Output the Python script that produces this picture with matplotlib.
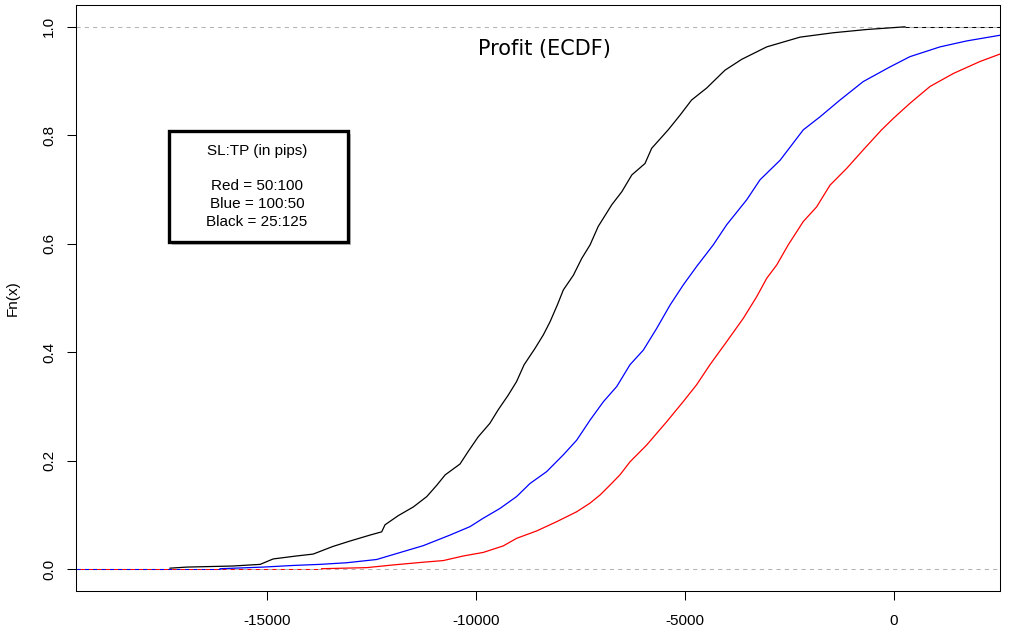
import matplotlib.pyplot as plt
from matplotlib.patches import Rectangle

plt.rcParams['font.family'] = ['Liberation Sans', 'DejaVu Sans']
plt.rcParams['axes.unicode_minus'] = False

# ECDF readings (profit, Fn(x)) for each SL:TP setting
black_x = [-17330, -16930, -15820, -15170, -14860, -14300, -13900, -13430, -13020, -12540,
           -12260, -12180, -11860, -11500, -11180, -10940, -10740, -10385, -10190, -9950,
           -9670, -9470, -9230, -9030, -8850, -8590, -8390, -8230, -8055, -7910,
           -7670, -7470, -7270, -7075, -6750, -6510, -6270, -5955, -5795, -5400,
           -5117, -4840, -4480, -4040, -3640, -3040, -2240, -1450, -650, 270]
black_F = [0.002, 0.004, 0.006, 0.009, 0.019, 0.0245, 0.028, 0.042, 0.052, 0.063,
           0.069, 0.082, 0.099, 0.115, 0.134, 0.155, 0.174, 0.194, 0.217, 0.244,
           0.269, 0.294, 0.321, 0.346, 0.377, 0.407, 0.432, 0.456, 0.487, 0.515,
           0.542, 0.573, 0.598, 0.632, 0.672, 0.696, 0.727, 0.748, 0.776, 0.810,
           0.837, 0.865, 0.887, 0.920, 0.940, 0.963, 0.981, 0.989, 0.995, 1.0]

blue_x = [-16130, -15100, -14380, -13740, -13100, -12380, -11900, -11265, -10625, -10145,
          -9830, -9430, -9030, -8710, -8310, -7910, -7590, -7270, -6950, -6630,
          -6315, -5995, -5675, -5355, -5040, -4720, -4320, -4000, -3520, -3200,
          -2720, -2165, -1765, -1285, -730, -90, 390, 1110, 1750, 2590]
blue_F = [0.001, 0.004, 0.007, 0.009, 0.012, 0.018, 0.029, 0.0435, 0.063, 0.0786,
          0.094, 0.112, 0.134, 0.158, 0.180, 0.211, 0.238, 0.275, 0.309, 0.337,
          0.377, 0.404, 0.444, 0.487, 0.524, 0.558, 0.598, 0.635, 0.681, 0.718,
          0.754, 0.810, 0.834, 0.865, 0.899, 0.926, 0.945, 0.963, 0.974, 0.985]

red_x = [-13700, -12620, -11980, -11265, -10785, -10305, -9830, -9350, -9030, -8550,
         -8070, -7590, -7270, -7030, -6795, -6555, -6315, -5915, -5435, -5040,
         -4720, -4400, -4000, -3600, -3280, -3040, -2800, -2525, -2165, -1845,
         -1525, -1125, -730, -290, -10, 390, 870, 1430, 2065, 2590]
red_F = [0.001, 0.003, 0.008, 0.013, 0.016, 0.0245, 0.031, 0.043, 0.057, 0.0706,
         0.0877, 0.106, 0.122, 0.137, 0.155, 0.174, 0.198, 0.229, 0.272, 0.309,
         0.340, 0.377, 0.4195, 0.4627, 0.5025, 0.5364, 0.561, 0.598, 0.641, 0.668,
         0.708, 0.739, 0.773, 0.810, 0.831, 0.859, 0.890, 0.914, 0.936, 0.951]

x_ticks = [-15000, -10000, -5000, 0]
y_ticks = [0.0, 0.2, 0.4, 0.6, 0.8, 1.0]
legend_lines = ["SL:TP (in pips)", "", "Red = 50:100", "Blue = 100:50", "Black = 25:125"]

xlim = (-19574, 2546)
ylim = (-0.0406, 1.0396)

fig = plt.figure(figsize=(10.25, 6.42), dpi=100)
ax = fig.add_axes([0.0744, 0.079, 0.9012, 0.9127])
ax.set_xlim(xlim)
ax.set_ylim(ylim)

# dashed reference lines at 0 and 1
ax.axhline(0, color='#b3b3b3', lw=0.75, ls=(0, (4, 4)))
ax.axhline(1, color='#b3b3b3', lw=0.75, ls=(0, (4, 4)))

# flat parts of the step functions
ax.hlines(0, xlim[0], black_x[0], color='black', lw=0.75, ls=(0, (4, 4)))
ax.hlines(0, xlim[0], blue_x[0], color='blue', lw=0.75, ls=(0, (4, 4)))
ax.hlines(0, xlim[0], red_x[0], color='red', lw=0.75, ls=(4, (4, 4)))
ax.hlines(1, black_x[-1], xlim[1], color='black', lw=0.75, ls=(0, (4, 4)))

ax.plot(black_x, black_F, color='black', lw=0.9)
ax.plot(blue_x, blue_F, color='blue', lw=0.9)
ax.plot(red_x, red_F, color='red', lw=0.9)

ax.set_xticks(x_ticks)
ax.set_yticks(y_ticks)
ax.set_yticklabels(["%.1f" % v for v in y_ticks])
ax.tick_params(axis='both', direction='out', length=6.5, width=0.75, labelsize=11,
               colors='black')
ax.tick_params(axis='x', pad=10)
ax.tick_params(axis='y', pad=8, labelrotation=90)
for lab in ax.get_yticklabels():
    lab.set_va('center')
for side in ax.spines.values():
    side.set_linewidth(0.75)

ax.set_ylabel("Fn(x)", fontsize=11)
ax.yaxis.set_label_coords(-0.061, 0.5)

ax.text(0.5063, 0.925, "Profit (ECDF)", transform=ax.transAxes, ha='center', va='center',
        fontsize=15, family='DejaVu Sans')

# legend box with drop shadow
W, H = 1025.0, 642.0
bx, by, bw, bh = 169 / W, (H - 242) / H, 179 / W, 111 / H
fig.add_artist(Rectangle((bx + 3 / W, by - 3 / H), bw, bh, transform=fig.transFigure,
                         facecolor='#9a9a9a', edgecolor='none', alpha=0.6, zorder=5))
fig.add_artist(Rectangle((bx, by), bw, bh, transform=fig.transFigure,
                         facecolor='white', edgecolor='black', lw=2.4, zorder=6))
line_y = [151, 168, 186, 204, 222]
for txt, yy in zip(legend_lines, line_y):
    fig.text(257 / W, (H - yy) / H, txt, ha='center', va='center', fontsize=11, zorder=7)

fig.savefig("out.png", dpi=100)
